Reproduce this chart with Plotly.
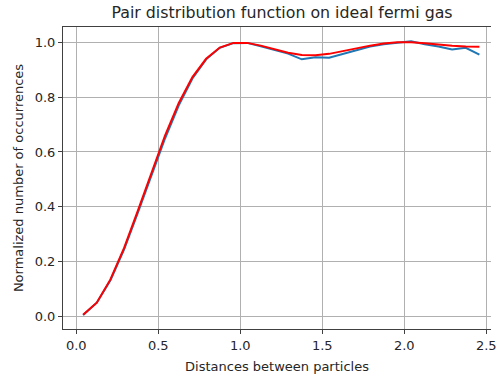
import plotly.graph_objects as go

# bin centres (distances between particles)
distances = [0.0417, 0.1250, 0.2083, 0.2917, 0.3750, 0.4583, 0.5417, 0.6250,
             0.7083, 0.7917, 0.8750, 0.9583, 1.0417, 1.1250, 1.2083, 1.2917,
             1.3750, 1.4583, 1.5417, 1.6250, 1.7083, 1.7917, 1.8750, 1.9583,
             2.0417, 2.1250, 2.2083, 2.2917, 2.3750, 2.4583]

# simulated histogram (blue)
simulated = [0.005, 0.050, 0.132, 0.245, 0.378, 0.515, 0.650, 0.770,
             0.868, 0.938, 0.980, 0.997, 0.998, 0.986, 0.972, 0.959,
             0.938, 0.946, 0.944, 0.958, 0.972, 0.985, 0.993, 0.998,
             1.004, 0.993, 0.985, 0.974, 0.980, 0.955]

# theoretical curve (red)
theory = [0.006, 0.050, 0.135, 0.250, 0.385, 0.526, 0.661, 0.779,
          0.873, 0.940, 0.981, 0.998, 0.998, 0.988, 0.974, 0.962,
          0.954, 0.953, 0.958, 0.967, 0.978, 0.988, 0.996, 1.000,
          1.000, 0.997, 0.992, 0.988, 0.985, 0.984]

x_ticks = [0.0, 0.5, 1.0, 1.5, 2.0, 2.5]
y_ticks = [0.0, 0.2, 0.4, 0.6, 0.8, 1.0]

fig = go.Figure()
fig.add_trace(go.Scatter(x=distances, y=simulated, mode="lines",
                         line=dict(color="#1f77b4", width=2), showlegend=False))
fig.add_trace(go.Scatter(x=distances, y=theory, mode="lines",
                         line=dict(color="#ff0000", width=2), showlegend=False))

font = "DejaVu Sans, sans-serif"
fig.update_layout(
    width=497, height=379,
    margin=dict(l=63, r=0, t=27, b=50),
    paper_bgcolor="white", plot_bgcolor="white",
    font=dict(family=font, size=13, color="#262626"),
    title=dict(text="Pair distribution function on ideal fermi gas",
               x=282 / 497, xref="container", xanchor="center",
               y=1 - 12 / 379, yref="container", yanchor="middle",
               font=dict(size=15.8, color="#262626")),
)
fig.update_xaxes(
    range=[-0.081, 2.529], tickvals=x_ticks, ticktext=[f"{v:.1f}" for v in x_ticks],
    showgrid=True, gridcolor="#b0b0b0", gridwidth=1,
    showline=True, linecolor="#404040", linewidth=1, mirror=True,
    ticks="outside", ticklen=4, tickcolor="#404040", zeroline=False,
    ticklabeloverflow="allow", tickfont=dict(size=13),
    title=dict(text="Distances between particles", standoff=10,
               font=dict(size=13, color="#262626")),
)
fig.update_yaxes(
    range=[-0.046, 1.056], tickvals=y_ticks, ticktext=[f"{v:.1f}" for v in y_ticks],
    showgrid=True, gridcolor="#b0b0b0", gridwidth=1,
    showline=True, linecolor="#404040", linewidth=1, mirror=False,
    ticks="outside", ticklen=4, tickcolor="#404040", zeroline=False,
    tickfont=dict(size=13),
    title=dict(text="Normalized number of occurrences", standoff=8,
               font=dict(size=13, color="#262626")),
)
fig.write_html("out.html")
